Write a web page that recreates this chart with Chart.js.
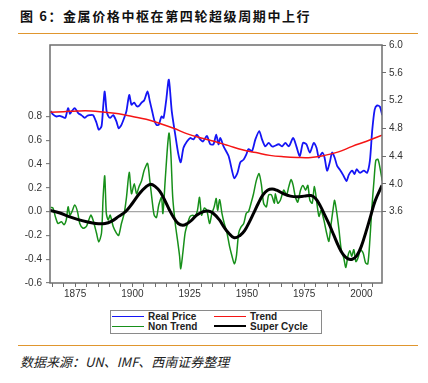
<!DOCTYPE html>
<html>
<head>
<meta charset="utf-8">
<script src="https://cdn.jsdelivr.net/npm/chart.js@4.4.1/dist/chart.umd.min.js"></script>
<style>
  html, body { margin: 0; padding: 0; background: #fff; }
  body { width: 428px; height: 383px; position: relative; overflow: hidden; font-family: Arial, "Liberation Sans", sans-serif; }
  #title { position: absolute; left: 20px; top: 6px; font: bold 13px "Noto Sans CJK SC", sans-serif; letter-spacing: 1.6px; color: #111; white-space: nowrap; }
  .rule { position: absolute; left: 18px; width: 400px; height: 0; border-top: 1.5px solid #e0962e; }
  #wrap { position: absolute; left: 0; top: 35px; width: 428px; height: 266px; }
  #legend { position: absolute; left: 110px; top: 310px; width: 209px; height: 21px; border: 1.5px solid #8a8a8a;
            display: grid; grid-template-columns: 102px 104px; grid-auto-rows: 9.5px; padding: 1px 0 0 1px; }
  #legend .item { display: flex; align-items: center; font: bold 10px Arial, "Liberation Sans", sans-serif; color: #222; white-space: nowrap; }
  #legend .swatch { width: 32px; margin-right: 4px; }
  #source { position: absolute; left: 20px; top: 352px; font: italic 13px "Noto Sans CJK SC", sans-serif; color: #222; white-space: nowrap; }
</style>
</head>
<body>
<div id="title">图 6：金属价格中枢在第四轮超级周期中上行</div>
<div class="rule" style="top:33px"></div>
<div id="wrap"><canvas id="chart" width="428" height="266"></canvas></div>
<div id="legend"></div>
<div class="rule" style="top:345px"></div>
<div id="source">数据来源：UN、IMF、西南证券整理</div>

<script>
'use strict';

// ---- data (years, values) ----
const PRICE_YEARS = [1864.3, 1865.3, 1866.8, 1868.2, 1869.7, 1870.7, 1871.9, 1872.7, 1873.6, 1874.8, 1876.3, 1877.7,
  1879.2, 1880.3, 1881.3, 1882.8, 1884.3, 1885.3, 1886.5, 1887.2, 1887.9, 1888.7, 1889.4, 1890.3, 1891.6, 1893.0,
  1894.0, 1895.2, 1896.4, 1897.4, 1898.6, 1899.6, 1900.8, 1901.8, 1902.8, 1904.0, 1905.1, 1906.6, 1907.6, 1908.6,
  1909.5, 1910.5, 1911.5, 1912.7, 1913.6, 1914.7, 1915.9, 1917.2, 1918.7, 1920.1, 1921.1, 1922.3, 1923.8, 1925.2,
  1926.7, 1928.1, 1929.6, 1930.8, 1932.5, 1934.0, 1935.4, 1936.6, 1937.6, 1938.4, 1939.8, 1942.0, 1943.5, 1944.5,
  1945.9, 1947.1, 1948.6, 1949.7, 1950.7, 1952.2, 1953.7, 1955.4, 1956.6, 1958.0, 1959.5, 1960.9, 1961.7, 1963.9,
  1965.4, 1966.8, 1968.3, 1970.2, 1971.6, 1973.1, 1974.5, 1976.0, 1977.5, 1979.2, 1980.4, 1981.4, 1982.9, 1983.9,
  1985.0, 1986.2, 1987.2, 1988.3, 1989.4, 1990.9, 1992.3, 1993.5, 1994.5, 1996.0, 1997.0, 1997.9, 1999.3, 2001.1,
  2002.5, 2003.7, 2004.7, 2005.8, 2006.9, 2008.1, 2009.1];
const PRICE = [5.05, 5.00, 4.97, 4.98, 4.96, 4.95, 5.09, 5.01, 5.05, 5.09, 5.02, 4.99,
  4.95, 4.98, 4.99, 4.99, 4.88, 4.78, 4.83, 5.10, 5.33, 5.05, 4.98, 4.95, 4.99, 4.90,
  4.80, 4.85, 4.95, 5.05, 5.28, 5.14, 5.17, 5.12, 5.12, 5.17, 5.20, 5.33, 5.19, 5.05,
  4.92, 4.85, 4.85, 4.97, 4.95, 5.19, 5.50, 5.04, 4.71, 4.42, 4.31, 4.52, 4.61, 4.66,
  4.64, 4.71, 4.64, 4.61, 4.69, 4.57, 4.57, 4.71, 4.57, 4.66, 4.54, 4.40, 4.19, 4.08,
  4.16, 4.31, 4.35, 4.42, 4.50, 4.47, 4.64, 4.76, 4.64, 4.54, 4.59, 4.54, 4.54, 4.57,
  4.54, 4.59, 4.54, 4.66, 4.54, 4.40, 4.59, 4.57, 4.45, 4.59, 4.52, 4.38, 4.45, 4.38,
  4.19, 4.31, 4.45, 4.38, 4.26, 4.19, 4.11, 4.04, 4.13, 4.19, 4.14, 4.21, 4.16, 4.19,
  4.16, 4.33, 4.76, 5.07, 5.13, 5.11, 4.99];

const TREND_YEARS = [1864, 1870, 1876, 1882, 1888, 1894, 1900, 1906, 1912, 1918, 1924, 1930, 1936,
  1942, 1948, 1954, 1960, 1966, 1972, 1978, 1984, 1990, 1996, 2002, 2009];
const TREND = [5.03, 5.04, 5.05, 5.05, 5.03, 5.01, 4.97, 4.93, 4.87, 4.80, 4.72, 4.66, 4.61,
  4.55, 4.49, 4.45, 4.41, 4.39, 4.38, 4.38, 4.41, 4.46, 4.54, 4.61, 4.70];

const CYCLE_NT_YEARS = [1864.3, 1865.3, 1866.3, 1867.5, 1869.0, 1870.1, 1871.1, 1871.9, 1872.7, 1873.6, 1874.8, 1876.0,
  1877.0, 1878.4, 1879.9, 1881.8, 1882.8, 1884.3, 1885.3, 1886.5, 1887.2, 1887.9, 1888.6, 1889.4, 1890.3, 1891.6,
  1893.0, 1894.0, 1895.2, 1896.4, 1897.4, 1898.6, 1899.6, 1900.8, 1901.8, 1902.8, 1904.0, 1905.1, 1906.6, 1907.6,
  1908.6, 1909.5, 1910.5, 1911.5, 1912.7, 1913.3, 1914.3, 1915.3, 1916.0, 1916.8, 1917.6, 1918.7, 1919.7, 1920.6,
  1921.1, 1922.0, 1923.0, 1924.1, 1925.2, 1926.4, 1927.4, 1928.4, 1929.3, 1930.2, 1931.4, 1932.5, 1933.7, 1934.7,
  1935.7, 1936.6, 1937.2, 1938.1, 1939.1, 1940.1, 1941.3, 1942.4, 1943.5, 1944.5, 1945.4, 1946.4, 1947.4, 1948.6,
  1949.7, 1950.7, 1951.8, 1952.9, 1954.1, 1955.3, 1956.3, 1957.3, 1958.5, 1959.5, 1960.7, 1962.0, 1962.4, 1963.5,
  1964.6, 1966.1, 1967.3, 1968.3, 1969.3, 1970.2, 1971.2, 1972.2, 1973.4, 1974.5, 1975.6, 1976.6, 1977.5, 1978.5,
  1979.5, 1980.7, 1981.5, 1982.4, 1983.6, 1984.8, 1985.8, 1986.8, 1987.7, 1988.3, 1989.1, 1990.2, 1991.2, 1992.3,
  1993.2, 1994.1, 1995.0, 1995.8, 1996.7, 1997.6, 1998.5, 1999.6, 2000.8, 2001.8, 2002.8, 2003.7, 2004.6, 2005.5,
  2006.3, 2007.2, 2008.1, 2009.1];
const NON_TREND = [0.035, 0.03, -0.04, -0.10, -0.085, -0.11, -0.07, 0.04, -0.03, 0.0, 0.055, 0.0,
  -0.10, -0.14, -0.125, -0.03, -0.07, -0.18, -0.255, -0.18, 0.12, 0.30, -0.015, -0.07, -0.03, -0.125,
  -0.18, -0.20, -0.10, -0.015, 0.12, 0.33, 0.15, 0.235, 0.15, 0.205, 0.26, 0.345, 0.405, 0.26,
  0.095, -0.03, -0.05, 0.055, 0.12, -0.015, 0.26, 0.54, 0.66, 0.48, 0.12, -0.10, -0.24, -0.375,
  -0.48, -0.35, -0.18, -0.10, -0.04, -0.03, -0.04, 0.01, 0.12, -0.03, 0.03, 0.01, -0.10, -0.015,
  0.04, 0.11, 0.01, 0.10, -0.015, -0.10, -0.18, -0.29, -0.375, -0.44, -0.375, -0.18, -0.13, -0.10,
  -0.015, 0.0, 0.07, 0.15, 0.26, 0.32, 0.23, 0.07, 0.04, 0.14, 0.14, 0.07, 0.15, 0.07,
  0.095, 0.18, 0.14, 0.21, 0.27, 0.22, 0.12, 0.08, 0.18, 0.22, 0.18, 0.22, 0.095, 0.07,
  0.21, 0.05, -0.04, 0.01, -0.07, -0.18, -0.25, -0.10, 0.03, 0.095, 0.01, -0.15, -0.32, -0.39,
  -0.47, -0.375, -0.33, -0.375, -0.32, -0.42, -0.39, -0.32, -0.35, -0.43, -0.44, -0.24, 0.04, 0.26,
  0.43, 0.44, 0.37, 0.26];

const SUPER_YEARS = [1864, 1868, 1872, 1876, 1880, 1884, 1888, 1891, 1894, 1897, 1900, 1903, 1906, 1908,
  1910, 1912, 1914, 1916, 1918, 1920, 1922, 1924, 1926, 1928, 1931, 1933, 1935, 1938, 1940, 1942, 1944.5,
  1947, 1949, 1951, 1953, 1955, 1957, 1959, 1961, 1963, 1966, 1969, 1972, 1975, 1978, 1980, 1982, 1984,
  1986, 1988, 1990, 1992, 1994, 1996, 1998, 2000, 2002, 2004, 2006, 2009];
const SUPER_CYCLE = [0.01, -0.01, -0.04, -0.065, -0.085, -0.10, -0.10, -0.08, -0.04, 0.0, 0.07, 0.15, 0.21, 0.23,
  0.21, 0.17, 0.10, 0.02, -0.05, -0.10, -0.115, -0.10, -0.07, -0.03, 0.0, 0.005, -0.01, -0.07, -0.13, -0.18, -0.22,
  -0.20, -0.16, -0.09, -0.01, 0.07, 0.14, 0.18, 0.19, 0.18, 0.15, 0.13, 0.125, 0.13, 0.135, 0.11, 0.05, -0.03,
  -0.11, -0.20, -0.29, -0.36, -0.395, -0.40, -0.37, -0.29, -0.17, -0.04, 0.09, 0.22];

const YEAR_TICKS = [1865, 1870, 1875, 1880, 1885, 1890, 1895, 1900, 1905, 1910, 1915, 1920, 1925, 1930, 1935,
  1940, 1945, 1950, 1955, 1960, 1965, 1970, 1975, 1980, 1985, 1990, 1995, 2000, 2005];
const LEFT_TICKS = [-0.6, -0.4, -0.2, 0.0, 0.2, 0.4, 0.6, 0.8];
const RIGHT_TICKS = [3.6, 4.0, 4.4, 4.8, 5.2, 5.6, 6.0];

// ---- axis limits: right axis 3.6 sits level with left axis 0 ----
const LEFT_MIN = -0.6, LEFT_MAX = 1.4;
const RIGHT_MAX = 6.0, RIGHT_ZERO = 3.6;
const RIGHT_MIN = RIGHT_MAX - (RIGHT_MAX - RIGHT_ZERO) * (LEFT_MAX - LEFT_MIN) / LEFT_MAX;

const pts = (xs, ys) => xs.map((x, i) => ({ x, y: ys[i] }));
const tickFont = { family: 'Arial, "Liberation Sans", sans-serif', size: 10 };
const AXIS = '#6e6e6e';

const frame = {
  id: 'frame',
  afterDatasetsDraw(chart) {
    const { ctx, chartArea: a } = chart;
    ctx.save();
    ctx.strokeStyle = AXIS;
    ctx.lineWidth = 1.5;
    ctx.strokeRect(a.left, a.top, a.right - a.left, a.bottom - a.top);
    ctx.restore();
  }
};

const datasets = [
  { label: 'Real Price', data: pts(PRICE_YEARS, PRICE), yAxisID: 'yR',
    borderColor: '#1515f5', borderWidth: 1.8, tension: 0.25, order: 3 },
  { label: 'Trend', data: pts(TREND_YEARS, TREND), yAxisID: 'yR',
    borderColor: '#f51515', borderWidth: 1.5, tension: 0.4, order: 2 },
  { label: 'Non Trend', data: pts(CYCLE_NT_YEARS, NON_TREND), yAxisID: 'yL',
    borderColor: '#17901a', borderWidth: 1.5, tension: 0.25, order: 1 },
  { label: 'Super Cycle', data: pts(SUPER_YEARS, SUPER_CYCLE), yAxisID: 'yL',
    borderColor: '#000000', borderWidth: 3, tension: 0.4, order: 0 },
];
datasets.forEach(d => { d.pointRadius = 0; d.fill = false; });

const chart = new Chart(document.getElementById('chart'), {
  type: 'line',
  data: { datasets },
  plugins: [frame],
  options: {
    responsive: false,
    animation: false,
    layout: { padding: { top: 8, bottom: 0, left: 0, right: 0 } },
    plugins: { legend: { display: false }, tooltip: { enabled: false } },
    scales: {
      x: {
        type: 'linear', min: 1864, max: 2009,
        afterBuildTicks: s => { s.ticks = YEAR_TICKS.map(v => ({ value: v })); },
        afterFit: s => { s.height = 18; },
        ticks: { autoSkip: false, maxRotation: 0, padding: 1, color: '#333', font: tickFont,
                 callback: v => v % 25 === 0 ? String(v) : '' },
        grid: { drawOnChartArea: false, tickLength: 4, tickColor: AXIS, tickWidth: 1 },
        border: { display: false },
      },
      yL: {
        position: 'left', min: LEFT_MIN, max: LEFT_MAX,
        afterBuildTicks: s => { s.ticks = LEFT_TICKS.map(v => ({ value: v })); },
        afterFit: s => { s.width = 50; },
        ticks: { padding: 4, color: '#333', font: tickFont, callback: v => v.toFixed(1) },
        grid: { tickLength: 4, tickColor: AXIS, tickWidth: 1, lineWidth: 1.3,
                color: c => c.tick && Math.abs(c.tick.value) < 1e-9 ? '#a6a6a6' : 'rgba(0,0,0,0)' },
        border: { display: false },
      },
      yR: {
        position: 'right', min: RIGHT_MIN, max: RIGHT_MAX,
        afterBuildTicks: s => { s.ticks = RIGHT_TICKS.map(v => ({ value: v })); },
        afterFit: s => { s.width = 46; },
        ticks: { padding: 3, color: '#333', font: tickFont, callback: v => v.toFixed(1) },
        grid: { drawOnChartArea: false, tickLength: 4, tickColor: AXIS, tickWidth: 1 },
        border: { display: false },
      },
    },
  },
});

// legend box, two rows of two, built from the datasets
const legend = document.getElementById('legend');
['Real Price', 'Trend', 'Non Trend', 'Super Cycle'].forEach(name => {
  const d = chart.data.datasets.find(x => x.label === name);
  const item = document.createElement('div');
  item.className = 'item';
  const sw = document.createElement('span');
  sw.className = 'swatch';
  sw.style.borderTop = (name === 'Super Cycle' ? 2.5 : 1.5) + 'px solid ' + d.borderColor;
  item.appendChild(sw);
  item.appendChild(document.createTextNode(name));
  legend.appendChild(item);
});
</script>
</body>
</html>
